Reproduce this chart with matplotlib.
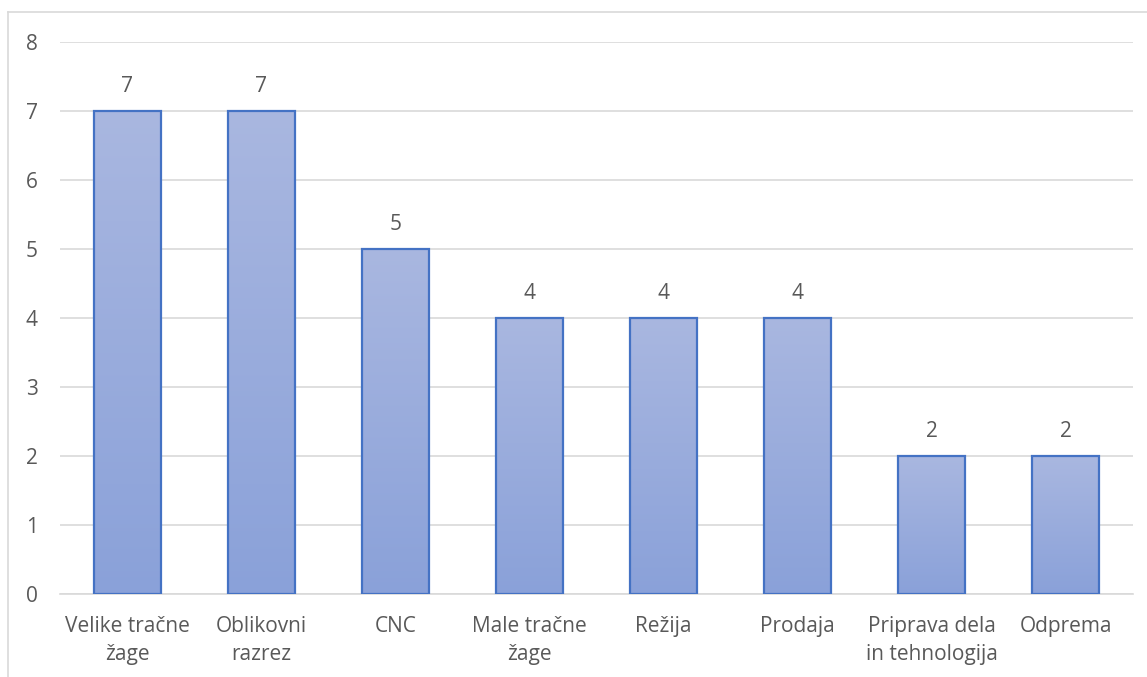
import numpy as np
import matplotlib.pyplot as plt
from matplotlib.lines import Line2D

categories = ["Velike tračne\nžage", "Oblikovni\nrazrez", "CNC", "Male tračne\nžage",
              "Režija", "Prodaja", "Priprava dela\nin tehnologija", "Odprema"]
counts = [7, 7, 5, 4, 4, 4, 2, 2]
y_ticks = [0, 1, 2, 3, 4, 5, 6, 7, 8]

plt.rcParams['font.family'] = ['Open Sans', 'DejaVu Sans']
text_col = "#595959"
fs = 15

fig = plt.figure(figsize=(11.47, 6.77), dpi=100)
ax = fig.add_axes([60 / 1147, 1 - 594 / 677, 1073 / 1147, 552 / 677])

x = np.arange(len(categories))
bars = ax.bar(x, counts, width=0.5, color="none", edgecolor="#4472C4", linewidth=1.6, zorder=3)

# vertical gradient inside each bar
grad = np.linspace(0, 1, 256).reshape(-1, 1)
top = np.array([0xA9, 0xB7, 0xE0]) / 255
bottom = np.array([0x8A, 0xA1, 0xD9]) / 255
img = bottom + (top - bottom) * grad[..., None]
for b in bars:
    x0, w, h = b.get_x(), b.get_width(), b.get_height()
    im = ax.imshow(img, extent=[x0, x0 + w, 0, h], origin="lower", aspect="auto", zorder=2)
    im.set_clip_path(b)
    ax.annotate(str(h if h % 1 else int(h)), (x0 + w / 2, h), xytext=(0, 10),
                textcoords="offset points", ha="center", va="bottom",
                fontsize=fs, color=text_col)

ax.set_xlim(-0.5, len(categories) - 0.5)
ax.set_ylim(0, 8)
ax.set_yticks(y_ticks)
ax.set_xticks(x)
ax.set_xticklabels(categories, fontsize=fs, color=text_col, linespacing=1.4)
ax.tick_params(axis="y", labelsize=fs, labelcolor=text_col, length=0, pad=16)
ax.tick_params(axis="x", length=0, pad=16)
ax.yaxis.grid(True, color="#D9D9D9", linewidth=1.2, zorder=0)
ax.set_axisbelow(True)
for s in ["top", "right", "left"]:
    ax.spines[s].set_visible(False)
ax.spines["bottom"].set_color("#D9D9D9")
ax.spines["bottom"].set_linewidth(1.2)

# outer chart border (left and top edges)
fig.add_artist(Line2D([8 / 1147, 8 / 1147], [0, 1 - 12 / 677], color="#D9D9D9", lw=1.2))
fig.add_artist(Line2D([8 / 1147, 1], [1 - 12 / 677, 1 - 12 / 677], color="#D9D9D9", lw=1.2))

fig.savefig("out.png", dpi=100)
